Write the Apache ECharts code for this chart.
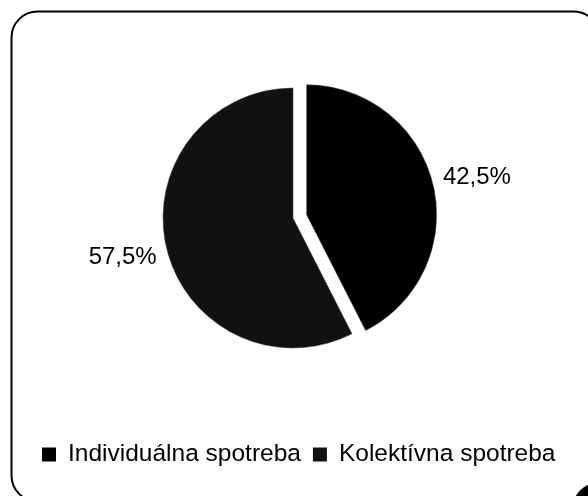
<!DOCTYPE html>
<html>
<head>
<meta charset="utf-8">
<script src="https://cdn.jsdelivr.net/npm/echarts@6/dist/echarts.min.js"></script>
<style>
  html, body { margin: 0; padding: 0; background: #fff; }
  #chart { width: 588px; height: 496px; }
</style>
</head>
<body>
<div id="chart"></div>
<script>
// categories and shares (%)
const categories = ["Individuálna spotreba", "Kolektívna spotreba"];
const shares = [42.5, 57.5];
const sliceColors = ["#000000", "#111111"];

const fontName = "Liberation Sans, Arial, sans-serif";

const myChart = echarts.init(document.getElementById("chart"));

const option = {
  animation: false,
  textStyle: { fontFamily: fontName },
  graphic: [
    {
      type: "rect",
      left: 9,
      top: 9,
      shape: { width: 588, height: 490, r: 26 },
      style: { fill: "none", stroke: "#000", lineWidth: 2 },
      silent: true
    },
    {
      // dark corner at bottom right
      type: "circle",
      shape: { cx: 600, cy: 510, r: 28 },
      style: { fill: "#000" },
      silent: true
    }
  ],
  legend: {
    data: categories,
    left: 37,
    top: 437,
    icon: "rect",
    itemWidth: 14,
    itemHeight: 14,
    itemGap: 12,
    selectedMode: false,
    itemStyle: { borderWidth: 0 },
    textStyle: {
      color: "#000",
      fontSize: 24.5,
      fontFamily: fontName,
      padding: [0, 0, 0, 7]
    }
  },
  series: [
    {
      type: "pie",
      center: [293, 218],
      radius: 130,
      startAngle: 90,
      clockwise: true,
      selectedMode: "single",
      selectedOffset: 14,
      emphasis: { disabled: true },
      itemStyle: { borderColor: "#444", borderWidth: 0.5 },
      label: {
        show: true,
        position: "outside",
        color: "#000",
        fontSize: 24,
        fontFamily: fontName,
        formatter: (p) => p.value.toFixed(1).replace(".", ",") + "%"
      },
      labelLine: { show: false, length: 4, length2: 1 },
      labelLayout: (params) => ({ dy: params.dataIndex === 0 ? -6 : 8 }),
      data: categories.map((name, i) => ({
        name: name,
        value: shares[i],
        selected: i === 0,
        itemStyle: { color: sliceColors[i] }
      }))
    }
  ]
};

option && myChart.setOption(option);
</script>
</body>
</html>
